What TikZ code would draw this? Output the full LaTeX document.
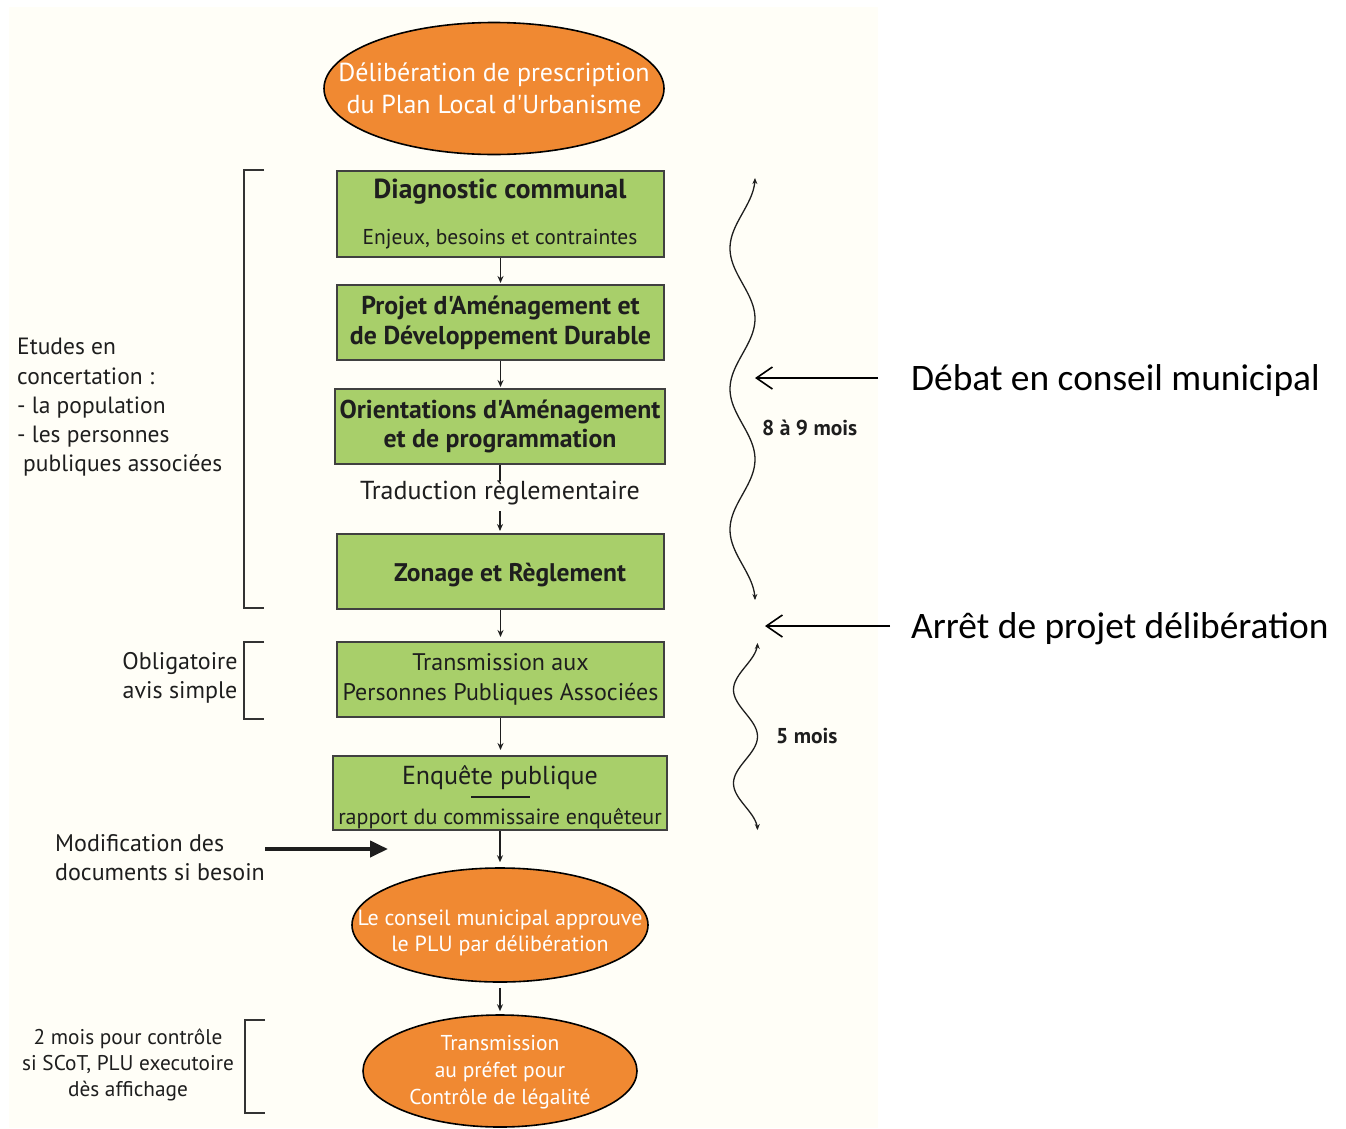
\documentclass[tikz,border=0pt]{standalone}
\usepackage{fontspec}
\setmainfont{PT Sans}[Ligatures=TeXOff]
\newfontfamily\calibrifont{Carlito}
\usetikzlibrary{arrows.meta,shapes.geometric}
\newcommand\fsz[2]{\fontsize{#1}{#2}\selectfont}
\definecolor{plugreen}{RGB}{168,207,106}
\definecolor{pluorange}{RGB}{240,137,50}
\definecolor{cream}{RGB}{255,254,247}
\definecolor{boxline}{RGB}{64,64,64}
\definecolor{inkcol}{RGB}{30,30,30}
\begin{document}
\begin{tikzpicture}[x=1pt,y=-1pt,
  greenbox/.style={draw=boxline, line width=2pt, fill=plugreen, minimum width=327pt, minimum height=75pt, inner sep=0pt, align=center, text=inkcol},
  ovalnode/.style={ellipse, draw=black, line width=1.6pt, fill=pluorange, inner sep=0pt},
  note/.style={inner sep=0pt, text=inkcol},
  ovaltext/.style={inner sep=0pt, text=white, align=center},
  flow/.style={-{Stealth[length=7pt,width=6pt]}, line width=1.2pt, draw=inkcol},
  bracket/.style={line width=2pt, draw=black!80},
  timearrow/.style={{Stealth[length=6pt,width=5pt]}-{Stealth[length=6pt,width=5pt]}, line width=1.3pt, draw=inkcol},
  eventarrow/.style={-{Straight Barb[length=16pt,width=22pt]}, line width=1.6pt, draw=black},
]
\useasboundingbox (0,0) rectangle (1346,1128);
\fill[white] (0,0) rectangle (1346,1128);
\fill[cream] (9,7) rectangle (878,1128);

% top ellipse
\node[ovalnode, minimum width=340pt, minimum height=132pt] (e1) at (494,88.5) {};
\node[ovaltext, font=\fsz{26}{32}] (e1t) at (494,88) {Délibération de prescription\\du Plan Local d'Urbanisme};

% green boxes
\node[greenbox, minimum height=86pt] (b1) at (500.5,214) {};
\node[note, font=\fsz{27.5}{30}\bfseries] (b1t) at (500,192) {Diagnostic communal};
\node[note, font=\fsz{21.5}{24}] (b1s) at (500,239) {Enjeux, besoins et contraintes};

\node[greenbox, font=\fsz{25.8}{30}\bfseries] (b2) at (500.5,322.5) {Projet d'Aménagement et\\de Développement Durable};

\node[greenbox, minimum width=330pt, font=\fsz{25.8}{29}\bfseries] (b3) at (500,426.5) {Orientations d'Aménagement\\et de programmation};

\node[note, font=\fsz{26}{28}] (trad) at (500,493) {Traduction règlementaire};

\node[greenbox] (b4) at (500.5,571.5) {};
\node[note, font=\fsz{25.5}{28}\bfseries] (b4t) at (510,575) {Zonage et Règlement};

\node[greenbox, font=\fsz{24}{30}] (b5) at (500.5,679.5) {Transmission aux\\Personnes Publiques Associées};

\node[greenbox, minimum width=334pt, minimum height=74pt] (b6) at (500,793) {};
\node[note, font=\fsz{26}{28}] (b6t) at (500,778) {Enquête publique};
\draw[line width=2pt, inkcol] (471,797) -- (530,797);
\node[note, font=\fsz{22}{24}] (b6s) at (500,819) {rapport du commissaire enquêteur};

% bottom ellipses
\node[ovalnode, minimum width=296pt, minimum height=114pt] (e2) at (500,925) {};
\node[ovaltext, font=\fsz{22}{26}] (e2t) at (500,933) {Le conseil municipal approuve\\le PLU par délibération};
\node[ovalnode, minimum width=274pt, minimum height=112pt] (e3) at (500,1071) {};
\node[ovaltext, font=\fsz{21.5}{27}] (e3t) at (500,1072) {Transmission\\au préfet pour\\Contrôle de légalité};

% flow connectors
\draw[flow, shorten >=1pt] (b1.south) -- (b1.south |- b2.north);
\draw[flow, shorten >=1pt] (b2.south) -- (b2.south |- b3.north);
\draw[line width=1.2pt, inkcol] (b3.south) -- (trad.north);
\draw[flow, shorten <=6pt, shorten >=2pt] (trad.south) -- (trad.south |- b4.north);
\draw[flow, shorten >=4pt] (b4.south) -- (b4.south |- b5.north);
\draw[flow, shorten >=5pt] (b5.south) -- (b5.south |- b6.north);
\draw[flow, shorten >=5pt] (b6.south) -- (b6.south |- e2.north);
\draw[flow, shorten <=5pt, shorten >=3pt] (e2.south) -- (e3.north);

% left notes and brackets
\node[note, align=left, anchor=west, font=\fsz{23.5}{29.3}] (etudes) at (17,407.5) {Etudes en\\concertation :\\- la population\\- les personnes\\\hspace*{6pt}publiques associées};
\draw[bracket] (264,170) -- (244,170) -- (244,608) -- (264,608);

\node[note, align=center, font=\fsz{24}{29}] (oblig) at (180,678) {Obligatoire\\avis simple};
\draw[bracket] (264,642) -- (244,642) -- (244,719) -- (264,719);

\node[note, align=left, anchor=west, font=\fsz{24}{29}] (modif) at (55,858) {Modification des\\documents si besoin};
\coordinate (modtail) at (265,849);
\coordinate (modtip) at (388,849);
\draw[-{Triangle[length=18pt,width=16pt]}, line width=4pt, inkcol] (modtail) -- (modtip);

\node[note, align=center, font=\fsz{21.3}{26}] (deuxmois) at (128,1065) {2 mois pour contrôle\\si SCoT, PLU executoire\\dès affichage};
\draw[bracket] (265,1020) -- (245,1020) -- (245,1113) -- (265,1113);

% time spans
\draw[timearrow] plot[domain=178:600, samples=140, smooth, variable=\t] ({742.5+12.5*cos(2.55918*(\t-178))}, {\t});
\draw[timearrow] plot[domain=643:830, samples=90, smooth, variable=\t] ({745.5+12*cos(3.85027*(\t-643))}, {\t});
\node[note, anchor=west, font=\fsz{21.5}{24}\bfseries] (huit) at (762,428) {8 à 9 mois};
\node[note, anchor=west, font=\fsz{21.5}{24}\bfseries] (cinq) at (776,736) {5 mois};

% events
\node[note, anchor=west, text=black, font=\calibrifont\fsz{37.4}{42}] (debat) at (911,381) {Débat en conseil municipal};
\coordinate (debattail) at (878,378);
\coordinate (debattip) at (755,378);
\draw[eventarrow] (debattail) -- (debattip);
\node[note, anchor=west, text=black, font=\calibrifont\fsz{37.4}{42}] (arret) at (911,629) {Arrêt de projet délibération};
\coordinate (arrettail) at (890,626);
\coordinate (arrettip) at (765,626);
\draw[eventarrow] (arrettail) -- (arrettip);
\end{tikzpicture}
\end{document}
